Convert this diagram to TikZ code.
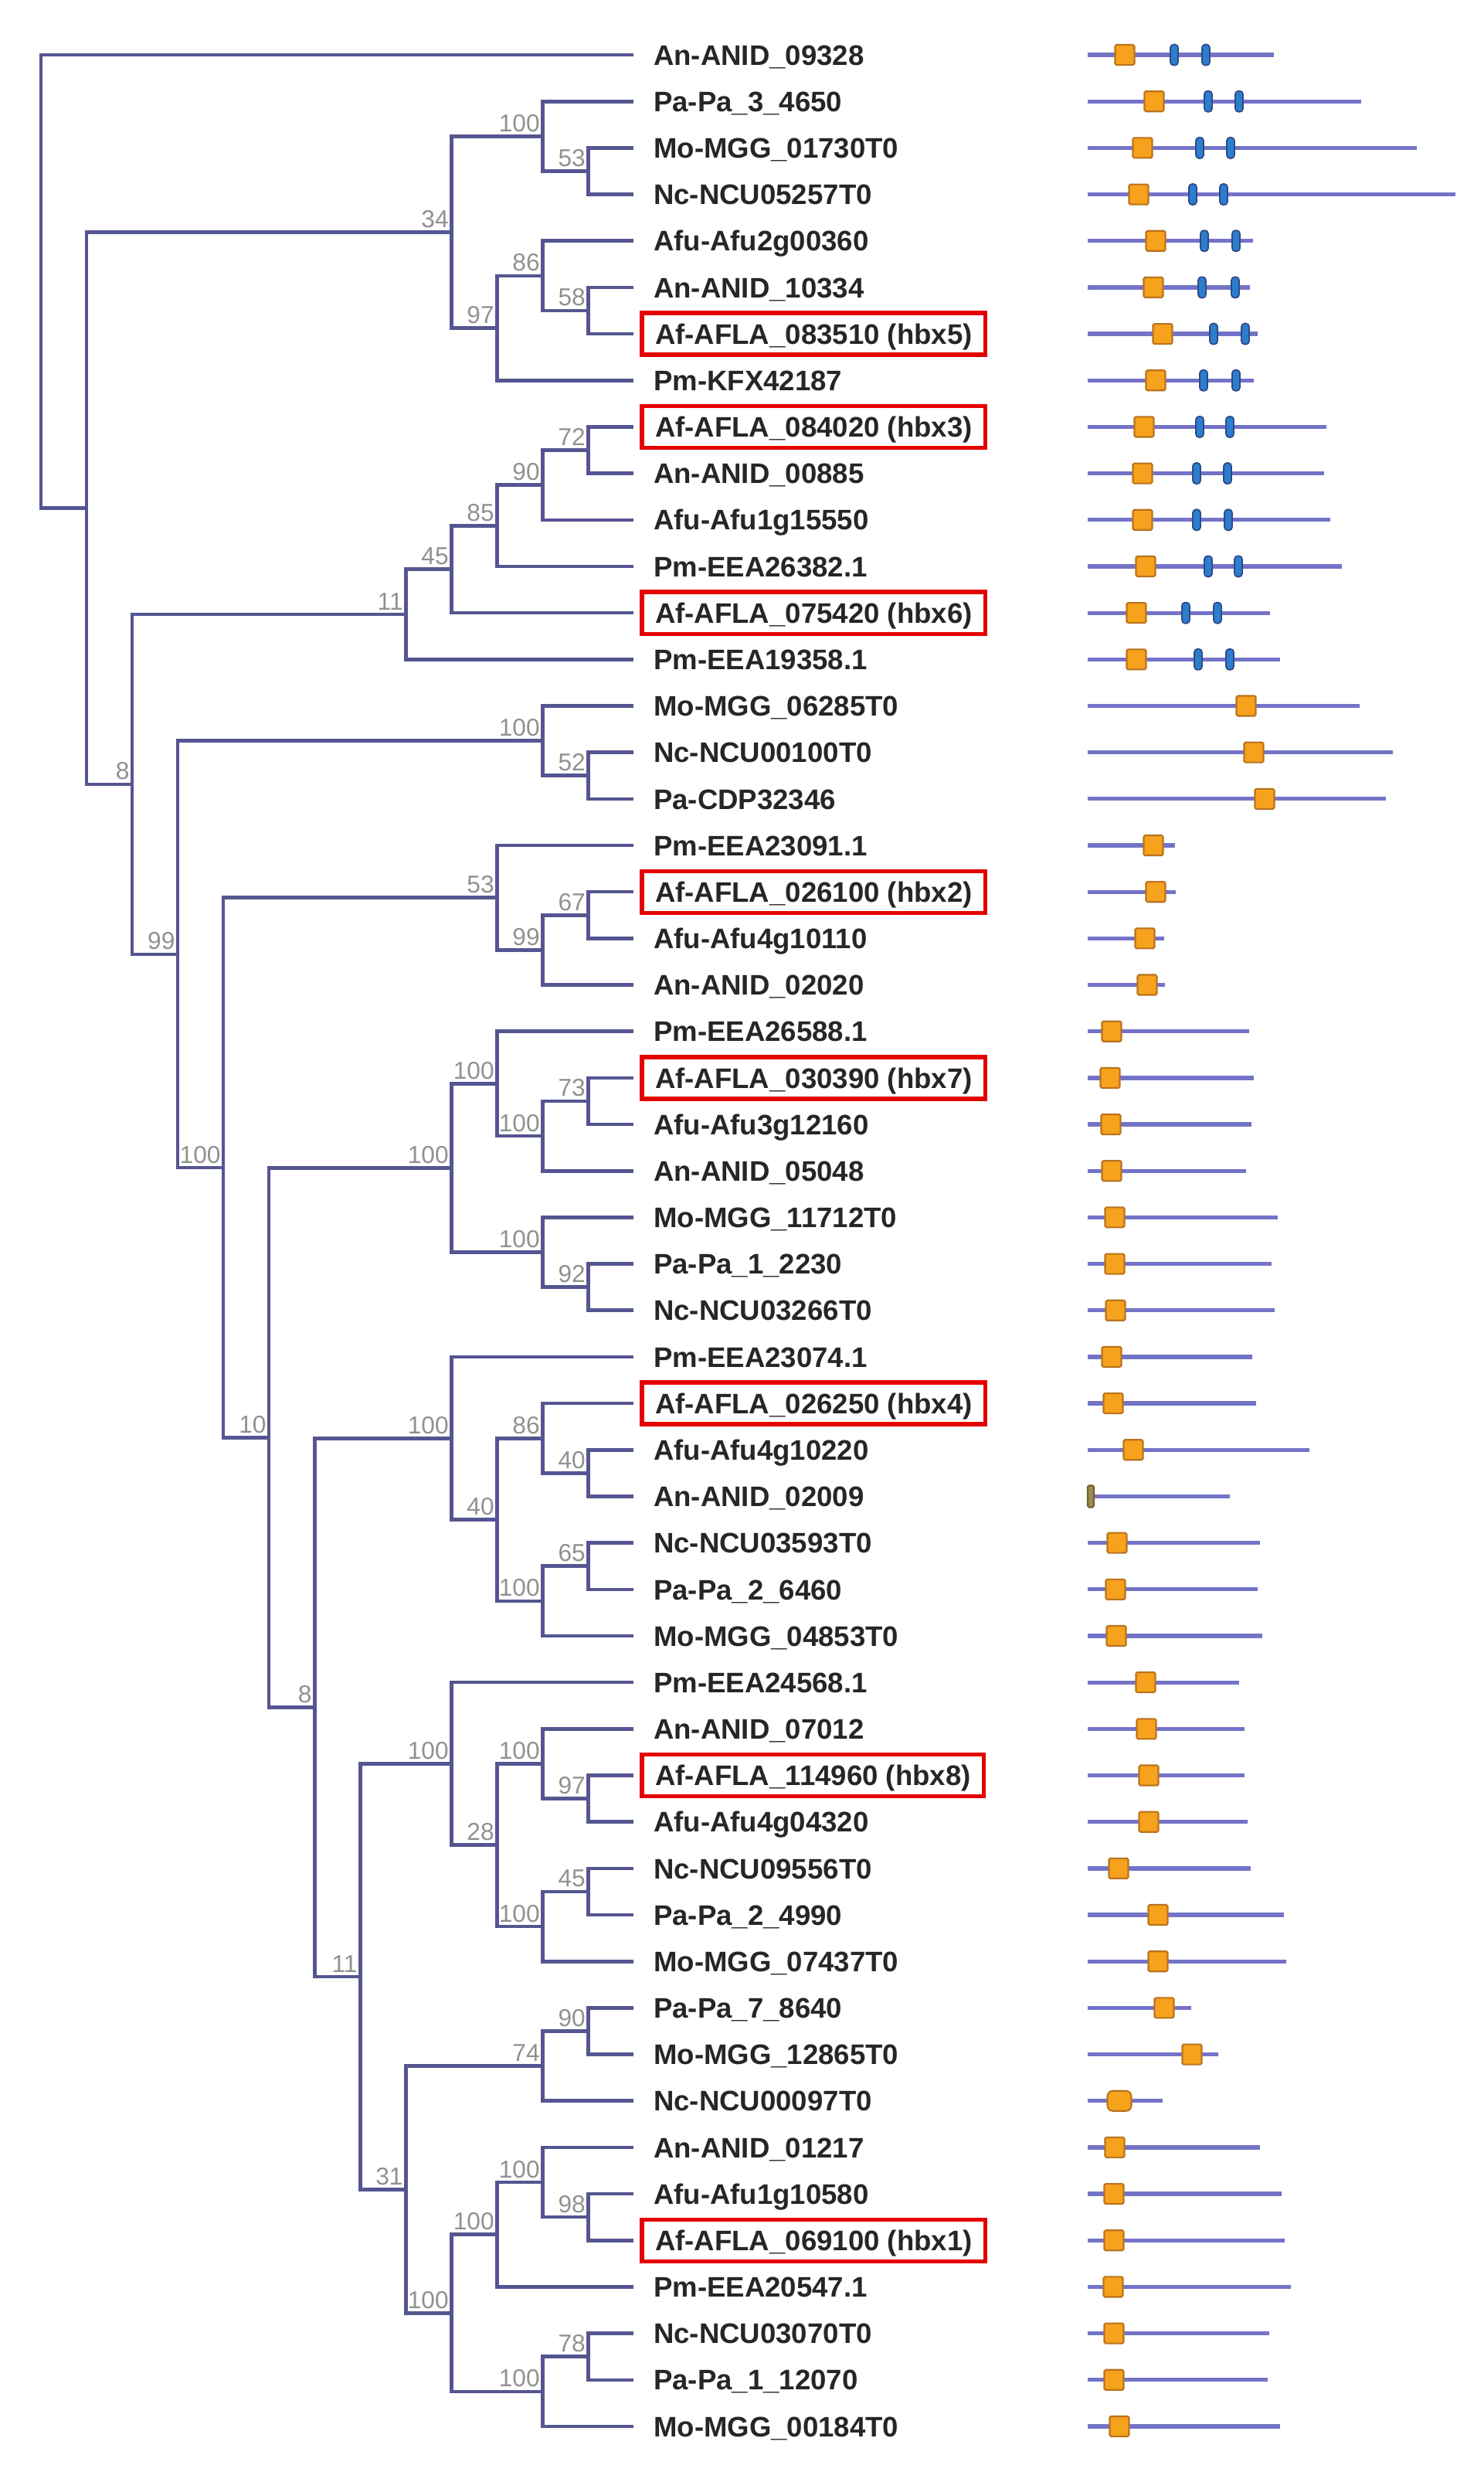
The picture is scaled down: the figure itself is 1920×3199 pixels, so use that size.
\documentclass[tikz,border=0pt]{standalone}
\usepackage{fontspec}
\setmainfont{Liberation Sans}

\definecolor{treeline}{RGB}{85,85,145}
\definecolor{geneline}{RGB}{115,115,200}
\definecolor{bootgray}{RGB}{145,145,145}
\definecolor{domfill}{RGB}{247,162,28}
\definecolor{domedge}{RGB}{185,115,30}
\definecolor{tickfill}{RGB}{45,125,205}
\definecolor{tickedge}{RGB}{45,75,135}
\definecolor{stubfill}{RGB}{160,140,80}

\begin{document}
\begin{tikzpicture}[x=0.01cm, y=-0.01cm,
    branch/.style={draw=treeline, line width=1.3pt},
    boot/.style={anchor=south east, inner sep=0pt, xshift=-0.03cm, yshift=0.05cm, text=bootgray, font=\fontsize{9}{10}\selectfont},
    leaf/.style={anchor=west, inner xsep=0.17cm, inner ysep=0pt, minimum height=0.54cm, text height=7.5pt, text depth=0pt, text=black!85, font=\fontsize{10.4}{12}\selectfont\bfseries},
    hbxbox/.style={draw=red!90!black, line width=1.5pt},
    gene/.style={draw=geneline, line width=1.5pt},
    dom/.style={draw=domedge, fill=domfill, line width=0.6pt, minimum width=0.25cm, minimum height=0.26cm, inner sep=0pt, rounded corners=0.5pt},
    tick/.style={draw=tickedge, fill=tickfill, line width=0.5pt, minimum width=0.1cm, minimum height=0.27cm, inner sep=0pt, rounded corners=1.2pt}]

    \useasboundingbox (0,0) rectangle (1920,3199);
    \fill[white] (0,0) rectangle (1920,3199);

    % tree: x = level (0 root .. 13 tips), y = row of the tip
    \begin{scope}[shift={(0.53cm,-0.1086cm)}, x=0.59cm, y=-0.6014cm]
        \foreach \i in {1,...,52}
            \coordinate (l\i) at (13,\i);

        % inner nodes
        \coordinate (root) at (0,5.8746);
        \coordinate (nA) at (1,10.7493);
        \coordinate (nB) at (9,4.8125);
        \coordinate (nD) at (11,2.75);
        \coordinate (nF) at (12,3.5);
        \coordinate (nE) at (10,6.875);
        \coordinate (nG) at (11,5.75);
        \coordinate (nH) at (12,6.5);
        \coordinate (nC) at (2,16.6860);
        \coordinate (nM) at (8,13.0313);
        \coordinate (nL) at (9,12.0625);
        \coordinate (nK) at (10,11.125);
        \coordinate (nJ) at (11,10.25);
        \coordinate (nI) at (12,9.5);
        \coordinate (nN) at (3,20.3408);
        \coordinate (nO) at (11,15.75);
        \coordinate (nQ) at (12,16.5);
        \coordinate (nP) at (4,24.9316);
        \coordinate (nR) at (10,19.125);
        \coordinate (nT) at (11,20.25);
        \coordinate (nU) at (12,19.5);
        \coordinate (nS) at (5,30.7383);
        \coordinate (nV) at (9,24.9375);
        \coordinate (nX) at (10,23.125);
        \coordinate (nZ) at (11,24.25);
        \coordinate (nAA) at (12,23.5);
        \coordinate (nY) at (11,26.75);
        \coordinate (nAB) at (12,27.5);
        \coordinate (nW) at (6,36.5391);
        \coordinate (nAC) at (9,30.75);
        \coordinate (nAE) at (10,32.5);
        \coordinate (nAF) at (11,30.75);
        \coordinate (nAH) at (12,31.5);
        \coordinate (nAG) at (11,34.25);
        \coordinate (nAI) at (12,33.5);
        \coordinate (nAD) at (7,42.3281);
        \coordinate (nAJ) at (9,37.75);
        \coordinate (nAL) at (10,39.5);
        \coordinate (nAM) at (11,37.75);
        \coordinate (nAO) at (12,38.5);
        \coordinate (nAN) at (11,41.25);
        \coordinate (nAP) at (12,40.5);
        \coordinate (nAK) at (8,46.9063);
        \coordinate (nAQ) at (11,44.25);
        \coordinate (nAS) at (12,43.5);
        \coordinate (nAR) at (9,49.5625);
        \coordinate (nAT) at (10,47.875);
        \coordinate (nAV) at (11,46.75);
        \coordinate (nAW) at (12,47.5);
        \coordinate (nAU) at (11,51.25);
        \coordinate (nAX) at (12,50.5);

        % branches
        \draw[branch] (l1) -| (root) |- (nA);
        \draw[branch] (nB) -| (nA) |- (nC);
        \draw[branch] (nD) -| (nB) |- (nE);
        \draw[branch] (l2) -| (nD) |- (nF);
        \draw[branch] (l3) -| (nF) |- (l4);
        \draw[branch] (nG) -| (nE) |- (l8);
        \draw[branch] (l5) -| (nG) |- (nH);
        \draw[branch] (l6) -| (nH) |- (l7);
        \draw[branch] (nM) -| (nC) |- (nN);
        \draw[branch] (nL) -| (nM) |- (l14);
        \draw[branch] (nK) -| (nL) |- (l13);
        \draw[branch] (nJ) -| (nK) |- (l12);
        \draw[branch] (nI) -| (nJ) |- (l11);
        \draw[branch] (l9) -| (nI) |- (l10);
        \draw[branch] (nO) -| (nN) |- (nP);
        \draw[branch] (l15) -| (nO) |- (nQ);
        \draw[branch] (l16) -| (nQ) |- (l17);
        \draw[branch] (nR) -| (nP) |- (nS);
        \draw[branch] (l18) -| (nR) |- (nT);
        \draw[branch] (nU) -| (nT) |- (l21);
        \draw[branch] (l19) -| (nU) |- (l20);
        \draw[branch] (nV) -| (nS) |- (nW);
        \draw[branch] (nX) -| (nV) |- (nY);
        \draw[branch] (l22) -| (nX) |- (nZ);
        \draw[branch] (nAA) -| (nZ) |- (l25);
        \draw[branch] (l23) -| (nAA) |- (l24);
        \draw[branch] (l26) -| (nY) |- (nAB);
        \draw[branch] (l27) -| (nAB) |- (l28);
        \draw[branch] (nAC) -| (nW) |- (nAD);
        \draw[branch] (l29) -| (nAC) |- (nAE);
        \draw[branch] (nAF) -| (nAE) |- (nAG);
        \draw[branch] (l30) -| (nAF) |- (nAH);
        \draw[branch] (l31) -| (nAH) |- (l32);
        \draw[branch] (nAI) -| (nAG) |- (l35);
        \draw[branch] (l33) -| (nAI) |- (l34);
        \draw[branch] (nAJ) -| (nAD) |- (nAK);
        \draw[branch] (l36) -| (nAJ) |- (nAL);
        \draw[branch] (nAM) -| (nAL) |- (nAN);
        \draw[branch] (l37) -| (nAM) |- (nAO);
        \draw[branch] (l38) -| (nAO) |- (l39);
        \draw[branch] (nAP) -| (nAN) |- (l42);
        \draw[branch] (l40) -| (nAP) |- (l41);
        \draw[branch] (nAQ) -| (nAK) |- (nAR);
        \draw[branch] (nAS) -| (nAQ) |- (l45);
        \draw[branch] (l43) -| (nAS) |- (l44);
        \draw[branch] (nAT) -| (nAR) |- (nAU);
        \draw[branch] (nAV) -| (nAT) |- (l49);
        \draw[branch] (l46) -| (nAV) |- (nAW);
        \draw[branch] (l47) -| (nAW) |- (l48);
        \draw[branch] (nAX) -| (nAU) |- (l52);
        \draw[branch] (l50) -| (nAX) |- (l51);

        % bootstrap values
        \foreach \n/\v in {nB/34, nD/100, nF/53, nE/97, nG/86, nH/58, nC/8, nM/11, nL/45, nK/85,
                nJ/90, nI/72, nN/99, nO/100, nQ/52, nP/100, nR/53, nT/99, nU/67, nS/10,
                nV/100, nX/100, nZ/100, nAA/73, nY/100, nAB/92, nW/8, nAC/100, nAE/40, nAF/86,
                nAH/40, nAG/100, nAI/65, nAD/11, nAJ/100, nAL/28, nAM/100, nAO/97, nAN/100, nAP/45,
                nAK/31, nAQ/74, nAS/90, nAR/100, nAT/100, nAV/100, nAW/98, nAU/100, nAX/78}
            \node[boot] (b\n) at (\n) {\v};

        % tip labels
        \foreach \i/\t in {1/An-ANID\_09328, 2/Pa-Pa\_3\_4650, 3/Mo-MGG\_01730T0, 4/Nc-NCU05257T0,
                5/Afu-Afu2g00360, 6/An-ANID\_10334, 8/Pm-KFX42187, 10/An-ANID\_00885,
                11/Afu-Afu1g15550, 12/Pm-EEA26382.1, 14/Pm-EEA19358.1, 15/Mo-MGG\_06285T0,
                16/Nc-NCU00100T0, 17/Pa-CDP32346, 18/Pm-EEA23091.1, 20/Afu-Afu4g10110,
                21/An-ANID\_02020, 22/Pm-EEA26588.1, 24/Afu-Afu3g12160, 25/An-ANID\_05048,
                26/Mo-MGG\_11712T0, 27/Pa-Pa\_1\_2230, 28/Nc-NCU03266T0, 29/Pm-EEA23074.1,
                31/Afu-Afu4g10220, 32/An-ANID\_02009, 33/Nc-NCU03593T0, 34/Pa-Pa\_2\_6460,
                35/Mo-MGG\_04853T0, 36/Pm-EEA24568.1, 37/An-ANID\_07012, 39/Afu-Afu4g04320,
                40/Nc-NCU09556T0, 41/Pa-Pa\_2\_4990, 42/Mo-MGG\_07437T0, 43/Pa-Pa\_7\_8640,
                44/Mo-MGG\_12865T0, 45/Nc-NCU00097T0, 46/An-ANID\_01217, 47/Afu-Afu1g10580,
                49/Pm-EEA20547.1, 50/Nc-NCU03070T0, 51/Pa-Pa\_1\_12070, 52/Mo-MGG\_00184T0}
            \node[leaf] (t\i) at ([xshift=0.08cm]l\i) {\t};
        \foreach \i/\t in {7/Af-AFLA\_083510 (hbx5), 9/Af-AFLA\_084020 (hbx3), 13/Af-AFLA\_075420 (hbx6),
                19/Af-AFLA\_026100 (hbx2), 23/Af-AFLA\_030390 (hbx7), 30/Af-AFLA\_026250 (hbx4),
                38/Af-AFLA\_114960 (hbx8), 48/Af-AFLA\_069100 (hbx1)}
            \node[leaf, hbxbox] (t\i) at ([xshift=0.08cm]l\i) {\t};
    \end{scope}

    % gene structures: x in px, y = row
    \begin{scope}[shift={(0cm,-0.1086cm)}, y=-0.6014cm]
        \foreach \i/\o/\e in {1/1456/1649, 2/1494/1762, 3/1479/1834, 4/1474/1884, 5/1496/1622,
                6/1493/1618, 7/1505/1628, 8/1496/1623, 9/1481/1717, 10/1479/1714, 11/1479/1722,
                12/1483/1737, 13/1471/1644, 14/1471/1657, 15/1613/1760, 16/1623/1803, 17/1637/1794,
                18/1493/1521, 19/1496/1522, 20/1482/1507, 21/1485/1508, 22/1439/1617, 23/1437/1623,
                24/1438/1620, 25/1439/1613, 26/1443/1654, 27/1443/1646, 28/1444/1650, 29/1439/1621,
                30/1441/1626, 31/1467/1695, 33/1446/1631, 34/1444/1628, 35/1445/1634, 36/1483/1604,
                37/1484/1611, 38/1487/1611, 39/1487/1615, 40/1448/1619, 41/1499/1662, 42/1499/1665,
                43/1507/1542, 44/1543/1577, 46/1443/1631, 47/1442/1659, 48/1442/1663, 49/1441/1671,
                50/1442/1643, 51/1442/1641, 52/1449/1657}
        {
            \draw[gene] (1408,\i) -- (\e,\i);
            \node[dom] (d\i) at (\o,\i) {};
        }
        \draw[gene] (1408,32) -- (1592,32);
        \node[dom, fill=stubfill, draw=stubfill!70!black, minimum width=0.08cm, minimum height=0.28cm] (d32) at (1412,32) {};
        \draw[gene] (1408,45) -- (1505,45);
        \node[dom, minimum width=0.31cm, rounded corners=2pt] (d45) at (1449,45) {};

        \foreach \i/\a/\b in {1/1520/1561, 2/1564/1604, 3/1553/1593, 4/1544/1584, 5/1559/1600,
                6/1556/1599, 7/1571/1612, 8/1558/1600, 9/1553/1592, 10/1549/1589, 11/1549/1590,
                12/1564/1603, 13/1535/1576, 14/1551/1592}
        {
            \node[tick] (ka\i) at (\a,\i) {};
            \node[tick] (kb\i) at (\b,\i) {};
        }
    \end{scope}
\end{tikzpicture}
\end{document}
